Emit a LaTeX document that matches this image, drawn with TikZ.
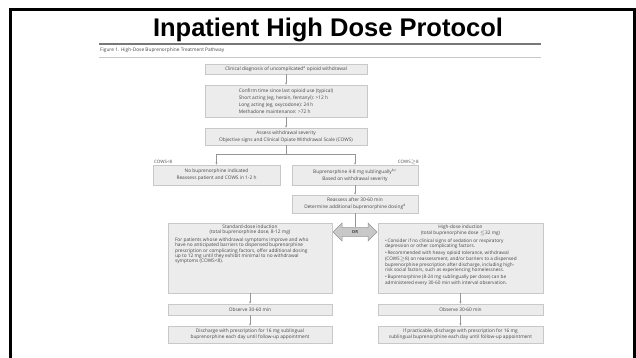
\documentclass[tikz,border=0pt]{standalone}
\usepackage{fontspec}
\setmainfont{Open Sans}
\newfontfamily\titlefont{Liberation Sans}
\usepackage{tikz}
\usetikzlibrary{arrows.meta,positioning,shapes.arrows}
\definecolor{boxfill}{RGB}{236,236,236}
\definecolor{boxedge}{RGB}{200,200,200}
\definecolor{inkgray}{RGB}{70,70,70}
\definecolor{linkgray}{RGB}{150,150,150}
\definecolor{rulegray}{RGB}{120,120,120}

\begin{document}
\begin{tikzpicture}[x=1pt,y=-1pt,>={Stealth[length=2.2pt,width=2pt]},
  pbox/.style={draw=boxedge,fill=boxfill,line width=0.6pt,inner sep=1pt,
    text=inkgray,align=center,font=\fontsize{4.8}{7}\selectfont},
  link/.style={draw=linkgray,line width=0.5pt,->},
  cows/.style={text=inkgray,font=\fontsize{4.5}{5}\selectfont,inner sep=0pt}]
  \useasboundingbox (0,0) rectangle (636,357);
  % slide frame and title
  \draw[line width=3pt] (10,365) -- (10,9) -- (634.5,9) -- (634.5,365);
  \node[anchor=base,font=\titlefont\bfseries\fontsize{25.5}{30}\selectfont] (title) at (328,36.5) {Inpatient High Dose Protocol};
  \draw[rulegray,line width=1.8pt] (99,44) -- (541,44);
  \node[anchor=west,inner sep=0pt,text=inkgray,font=\fontsize{4.8}{5}\selectfont] (caption) at (100,50.5) {Figure 1. High-Dose Buprenorphine Treatment Pathway};
  \draw[boxedge,line width=0.6pt] (99,57) -- (541,57);
  % upper pathway
  \node[pbox,minimum width=162,minimum height=10] (diag) at (286,69) {Clinical diagnosis of uncomplicated\textsuperscript{a} opioid withdrawal};
  \node[pbox,align=left,minimum width=162,minimum height=32] (confirm) at (286,101)
    {Confirm time since last opioid use (typical)\\
     Short acting (eg, heroin, fentanyl): \textgreater12 h\\
     Long acting (eg, oxycodone): 24 h\\
     Methadone maintenance: \textgreater72 h};
  \node[pbox,minimum width=162,minimum height=17] (assess) at (286,136.5)
    {Assess withdrawal severity\\ Objective signs and Clinical Opiate Withdrawal Scale (COWS)};
  \node[pbox,minimum width=127,minimum height=20] (nobup) at (216.5,175)
    {No buprenorphine indicated\\ Reassess patient and COWS in 1-2 h};
  \node[pbox,minimum width=126,minimum height=20] (bup) at (355,175)
    {Buprenorphine 4-8 mg sublingually\textsuperscript{b,c}\\ Based on withdrawal severity};
  \node[pbox,minimum width=126,minimum height=18] (reassess) at (355,204)
    {Reassess after 30-60 min\\ Determine additional buprenorphine dosing\textsuperscript{d}};
  \node[cows,anchor=west] (cowslow) at (154,162) {COWS\textless 8};
  \node[cows,anchor=east] (cowshigh) at (419,162) {COWS$\geq$8};
  \coordinate (split) at (286,154);
  \draw[link] (diag) -- (confirm);
  \draw[link] (confirm) -- (assess);
  \draw[linkgray,line width=0.5pt] (assess) -- (split);
  \draw[link] (split) -| (nobup);
  \draw[link] (split) -| (bup);
  \draw[link] (bup) -- (reassess);
  % induction choice
  \node[double arrow,draw=linkgray,fill=boxedge,line width=0.5pt,minimum height=44,minimum width=18,
    double arrow head extend=3pt,inner sep=1pt,text=inkgray,font=\bfseries\fontsize{4.2}{5}\selectfont] (orarrow) at (355,232) {OR};
  \draw[linkgray,line width=0.5pt] (reassess) -- (orarrow);
  \node[pbox,minimum width=164,minimum height=70,inner sep=0pt] (stdind) at (250,258)
    {\parbox[c][66pt][t]{150pt}{\fontsize{4.8}{5.2}\selectfont
      {\centering Standard-dose induction\\ (total buprenorphine dose, 8-12 mg)\par}
      \vspace{2.6pt}\raggedright
      For patients whose withdrawal symptoms improve and who\\
      have no anticipated barriers to dispensed buprenorphine\\
      prescription or complicating factors, offer additional dosing\\
      up to 12 mg until they exhibit minimal to no withdrawal\\
      symptoms (COWS\textless 8).}};
  \node[pbox,minimum width=165,minimum height=70,inner sep=0pt] (highind) at (460.5,258)
    {\parbox[c][66pt][t]{151pt}{\fontsize{4.7}{5.6}\selectfont
      {\centering High-dose induction\\ (total buprenorphine dose $\leq$32 mg)\par}
      \vspace{2.4pt}\raggedright
      \hangindent=3pt\hangafter=1
      \textbullet\,Consider if no clinical signs of sedation or respiratory\\
      depression or other complicating factors.\par\vspace{1.6pt}
      \hangindent=3pt\hangafter=1
      \textbullet\,Recommended with heavy opioid tolerance, withdrawal\\
      (COWS$\geq$8) on reassessment, and/or barriers to a dispensed\\
      buprenorphine prescription after discharge, including high-\\
      risk social factors, such as experiencing homelessness.\par\vspace{1.6pt}
      \hangindent=3pt\hangafter=1
      \textbullet\,Buprenorphine (8-24 mg sublingually per dose) can be\\
      administered every 30-60 min with interval observation.}};
  % observation and discharge
  \node[pbox,minimum width=164,minimum height=11] (obsstd) at (250,309.5) {Observe 30-60 min};
  \node[pbox,minimum width=165,minimum height=11] (obshigh) at (460.5,309.5) {Observe 30-60 min};
  \node[pbox,minimum width=164,minimum height=17,font=\fontsize{4.8}{5.8}\selectfont] (dischstd) at (250,334.5)
    {Discharge with prescription for 16 mg sublingual\\ buprenorphine each day until follow-up appointment};
  \node[pbox,minimum width=165,minimum height=17,font=\fontsize{4.8}{5.8}\selectfont] (dischhigh) at (460.5,334.5)
    {If practicable, discharge with prescription for 16 mg\\ sublingual buprenorphine each day until follow-up appointment};
  \draw[link] (stdind) -- (obsstd);
  \draw[link] (obsstd) -- (dischstd);
  \draw[link] (highind) -- (obshigh);
  \draw[link] (obshigh) -- (dischhigh);
\end{tikzpicture}
\end{document}
